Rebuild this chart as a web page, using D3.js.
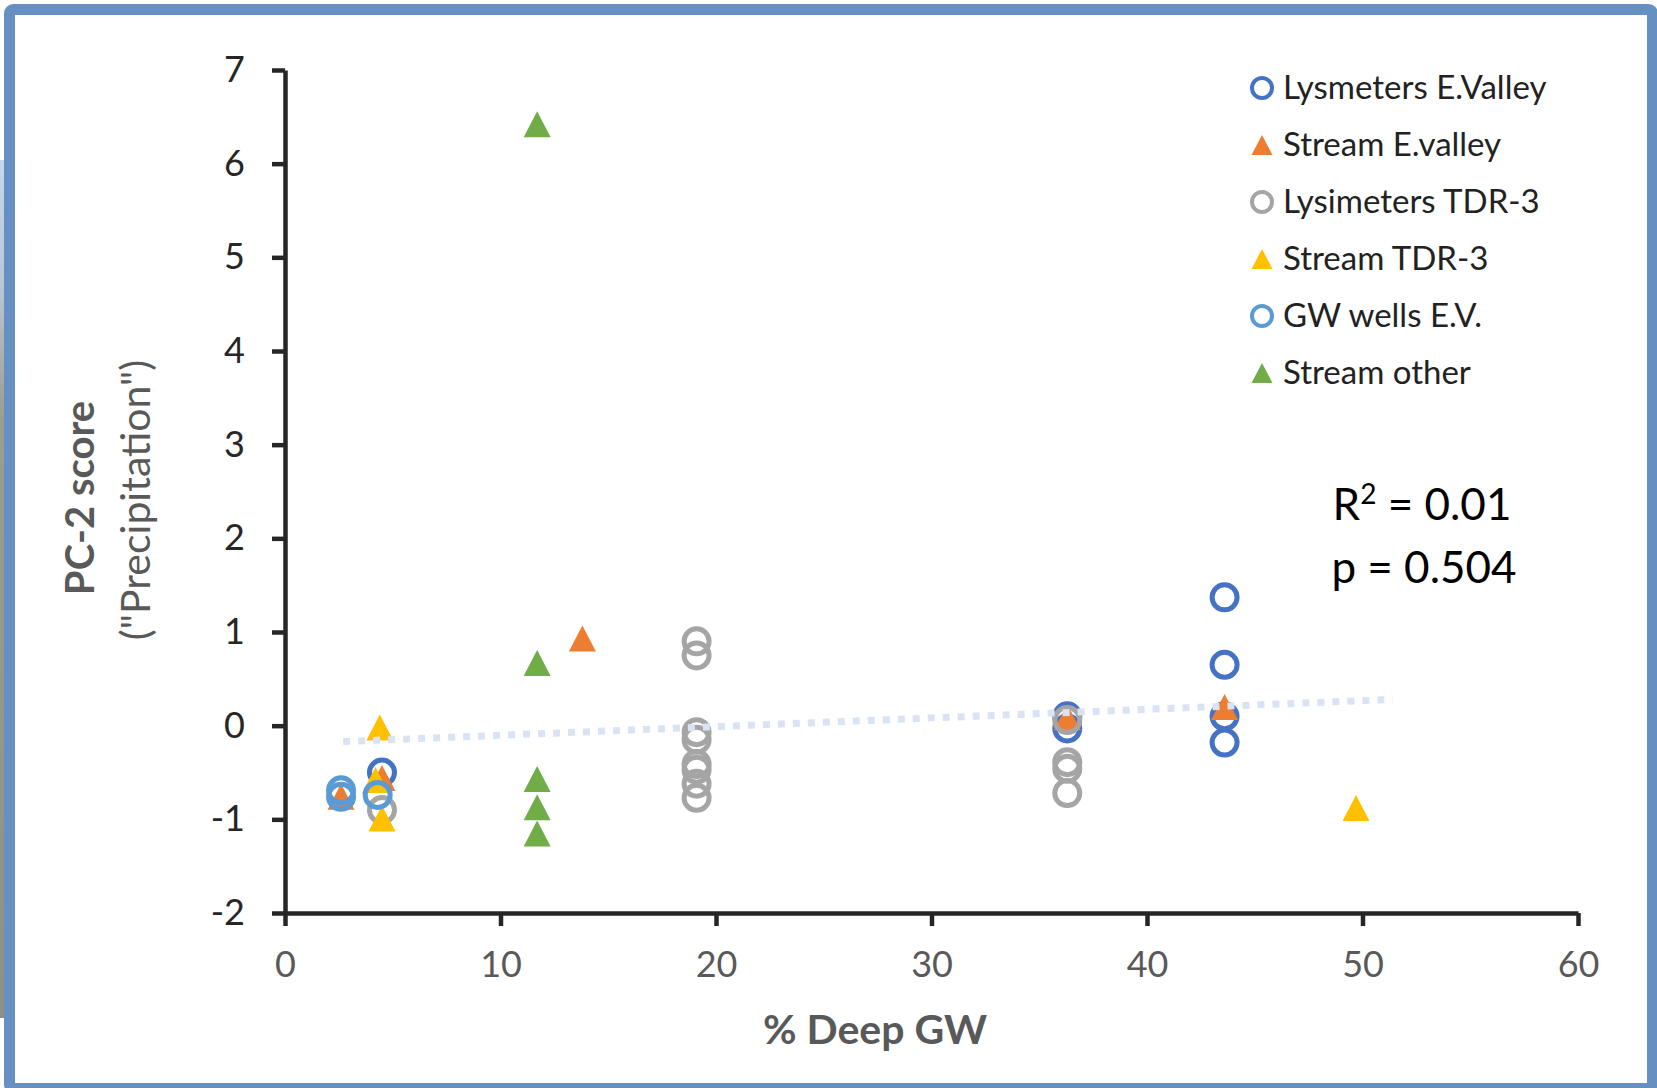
<!DOCTYPE html>
<html>
<head>
<meta charset="utf-8">
<script src="https://cdn.jsdelivr.net/npm/d3@7"></script>
<style>
    body { margin: 0; background: #ffffff; }
    svg text { font-family: Lato, "Open Sans", sans-serif; }
</style>
</head>
<body>
<div id="chart"></div>
<script>
// series: [% deep GW, PC-2 score]
const lysimetersEV = [[43.6, 1.37], [43.6, 0.65], [43.6, 0.1], [43.6, -0.18], [36.3, 0.1], [36.3, -0.03], [4.5, -0.5]];
const streamEV = [[13.8, 0.93], [2.6, -0.76], [4.5, -0.56], [36.3, 0.09], [43.6, 0.2]];
const lysimetersTDR3 = [[19.1, 0.9], [19.1, 0.75], [19.1, -0.07], [19.1, -0.15], [19.1, -0.41], [19.1, -0.47],
    [19.1, -0.62], [19.1, -0.77], [36.3, 0.06], [36.3, -0.39], [36.3, -0.46], [36.3, -0.72], [4.5, -0.9]];
const streamTDR3 = [[4.4, -0.02], [4.2, -0.58], [4.5, -0.99], [49.7, -0.88]];
const gwWellsEV = [[2.6, -0.69], [2.6, -0.76], [4.3, -0.74]];
const streamOther = [[11.7, 6.42], [11.7, 0.67], [11.7, -0.57], [11.7, -0.87], [11.7, -1.15]];

const trendLine = [[2.7, -0.17], [51.4, 0.28]];

const seriesNames = ["Lysmeters E.Valley", "Stream E.valley", "Lysimeters TDR-3", "Stream TDR-3", "GW wells E.V.", "Stream other"];
const seriesColors = ["#4472c4", "#ed7d31", "#a5a5a5", "#ffc000", "#5b9bd5", "#70ad47"];
const seriesShapes = ["circle", "triangle", "circle", "triangle", "circle", "triangle"];
const seriesData = [lysimetersEV, streamEV, lysimetersTDR3, streamTDR3, gwWellsEV, streamOther];

const xTicks = [0, 10, 20, 30, 40, 50, 60];
const yTicks = [-2, -1, 0, 1, 2, 3, 4, 5, 6, 7];
const statsLines = ["R", "p = 0.504"];

function triangle(w, h) {
    return "M0," + (-h / 2) + "L" + (w / 2) + "," + (h / 2) + "L" + (-w / 2) + "," + (h / 2) + "Z";
}

function create_scatter(id_chart, width, height) {

    const svg = d3.select(id_chart)
        .append("svg")
        .attr("width", width)
        .attr("height", height);

    // bit of the slide behind the frame
    const grad = svg.append("defs").append("linearGradient")
        .attr("id", "strip").attr("x1", 0).attr("x2", 0).attr("y1", 0).attr("y2", 1);
    grad.append("stop").attr("offset", "0").attr("stop-color", "#c3d8ef");
    grad.append("stop").attr("offset", "0.15").attr("stop-color", "#b9c6d2");
    grad.append("stop").attr("offset", "0.3").attr("stop-color", "#9c9c90");
    grad.append("stop").attr("offset", "1").attr("stop-color", "#8f8f86");
    svg.append("rect")
        .attr("x", 0).attr("y", 160).attr("width", 5).attr("height", 858)
        .attr("fill", "url(#strip)");

    svg.append("rect")
        .attr("x", 9.5).attr("y", 9.5)
        .attr("width", 1643).attr("height", 1079)
        .attr("rx", 4)
        .attr("fill", "#ffffff")
        .attr("stroke", "#6690c2")
        .attr("stroke-width", 11);

    const x = d3.scaleLinear().domain([0, 60]).range([285, 1578]);
    const y = d3.scaleLinear().domain([-2, 7]).range([913, 70]);

    const yAxis = svg.append("g")
        .attr("transform", "translate(" + x(0) + ",0)")
        .call(d3.axisLeft(y).tickValues(yTicks).tickFormat(d => String(d))
            .tickSize(13).tickSizeOuter(0).tickPadding(27));
    yAxis.selectAll("text")
        .style("font-size", "36px")
        .attr("fill", "#262626");

    const xAxis = svg.append("g")
        .attr("transform", "translate(0," + y(-2) + ")")
        .call(d3.axisBottom(x).tickValues(xTicks).tickSize(13).tickSizeOuter(0).tickPadding(25));
    xAxis.selectAll("text")
        .style("font-size", "36px")
        .attr("fill", "#595959");

    svg.selectAll(".domain, .tick line")
        .attr("stroke", "#262626")
        .attr("stroke-width", 4.5);

    // axis titles
    svg.append("text")
        .attr("transform", "translate(94,498) rotate(-90)")
        .attr("text-anchor", "middle")
        .style("font-size", "40px")
        .style("font-weight", "bold")
        .attr("fill", "#595959")
        .text("PC-2 score");
    svg.append("text")
        .attr("transform", "translate(150,500) rotate(-90)")
        .attr("text-anchor", "middle")
        .style("font-size", "41px")
        .attr("fill", "#595959")
        .text("(\"Precipitation\")");
    svg.append("text")
        .attr("x", 875).attr("y", 1044)
        .attr("text-anchor", "middle")
        .style("font-size", "41px")
        .style("font-weight", "bold")
        .attr("fill", "#595959")
        .text("% Deep GW");

    // points
    seriesData.forEach(function (data, i) {
        const g = svg.append("g");
        if (seriesShapes[i] === "circle") {
            g.selectAll("circle")
                .data(data)
                .enter().append("circle")
                .attr("cx", d => x(d[0]))
                .attr("cy", d => y(d[1]))
                .attr("r", 12.5)
                .attr("fill", "none")
                .attr("stroke", seriesColors[i])
                .attr("stroke-width", 5);
        } else {
            g.selectAll("path")
                .data(data)
                .enter().append("path")
                .attr("transform", d => "translate(" + x(d[0]) + "," + y(d[1]) + ")")
                .attr("d", triangle(27, 26))
                .attr("fill", seriesColors[i]);
        }
    });

    // linear trend
    svg.append("path")
        .datum(trendLine)
        .attr("d", d3.line().x(d => x(d[0])).y(d => y(d[1])))
        .attr("fill", "none")
        .attr("stroke", "#dae3f3")
        .attr("stroke-width", 7)
        .attr("stroke-dasharray", "7 8");

    // legend
    const legend = svg.append("g").attr("transform", "translate(1262,88)");
    seriesNames.forEach(function (name, i) {
        const row = legend.append("g").attr("transform", "translate(0," + (i * 57) + ")");
        if (seriesShapes[i] === "circle") {
            row.append("circle")
                .attr("r", 10)
                .attr("fill", "none")
                .attr("stroke", seriesColors[i])
                .attr("stroke-width", 4);
        } else {
            row.append("path")
                .attr("d", triangle(21, 20))
                .attr("fill", seriesColors[i]);
        }
        row.append("text")
            .attr("x", 21).attr("y", 11)
            .style("font-size", "33px")
            .attr("fill", "#222222")
            .text(name);
    });

    // stats
    const r2 = svg.append("text")
        .attr("x", 1422).attr("y", 520)
        .attr("text-anchor", "middle")
        .style("font-size", "44px")
        .attr("fill", "#000000");
    r2.append("tspan").text(statsLines[0]);
    r2.append("tspan").attr("dy", -16).style("font-size", "28px").text("2");
    r2.append("tspan").attr("dy", 16).text(" = 0.01");
    svg.append("text")
        .attr("x", 1424).attr("y", 583)
        .attr("text-anchor", "middle")
        .style("font-size", "44px")
        .attr("fill", "#000000")
        .text(statsLines[1]);
}

create_scatter("#chart", 1657, 1088);
</script>
</body>
</html>
